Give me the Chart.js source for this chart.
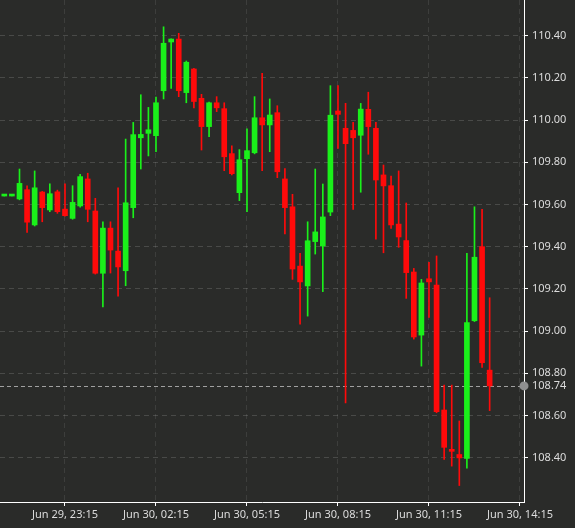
<!DOCTYPE html>
<html>
<head>
<meta charset="utf-8">
<script src="https://cdn.jsdelivr.net/npm/chart.js@4.4.0/dist/chart.umd.min.js"></script>
<style>
  html, body { margin: 0; padding: 0; background: #2a2b29; }
  #wrap { width: 575px; height: 528px; }
</style>
</head>
<body>
<div id="wrap"><canvas id="myChart" width="575" height="528"></canvas></div>
<script>
// 15 minute candles, Jun 29 21:15 -> Jun 30 13:15
const times = [
  "Jun 29, 21:15", "Jun 29, 21:30", "Jun 29, 21:45", "Jun 29, 22:00", "Jun 29, 22:15", "Jun 29, 22:30", "Jun 29, 22:45", "Jun 29, 23:00",
  "Jun 29, 23:15", "Jun 29, 23:30", "Jun 29, 23:45", "Jun 30, 00:00", "Jun 30, 00:15", "Jun 30, 00:30", "Jun 30, 00:45", "Jun 30, 01:00",
  "Jun 30, 01:15", "Jun 30, 01:30", "Jun 30, 01:45", "Jun 30, 02:00", "Jun 30, 02:15", "Jun 30, 02:30", "Jun 30, 02:45", "Jun 30, 03:00",
  "Jun 30, 03:15", "Jun 30, 03:30", "Jun 30, 03:45", "Jun 30, 04:00", "Jun 30, 04:15", "Jun 30, 04:30", "Jun 30, 04:45", "Jun 30, 05:00",
  "Jun 30, 05:15", "Jun 30, 05:30", "Jun 30, 05:45", "Jun 30, 06:00", "Jun 30, 06:15", "Jun 30, 06:30", "Jun 30, 06:45", "Jun 30, 07:00",
  "Jun 30, 07:15", "Jun 30, 07:30", "Jun 30, 07:45", "Jun 30, 08:00", "Jun 30, 08:15", "Jun 30, 08:30", "Jun 30, 08:45", "Jun 30, 09:00",
  "Jun 30, 09:15", "Jun 30, 09:30", "Jun 30, 09:45", "Jun 30, 10:00", "Jun 30, 10:15", "Jun 30, 10:30", "Jun 30, 10:45", "Jun 30, 11:00",
  "Jun 30, 11:15", "Jun 30, 11:30", "Jun 30, 11:45", "Jun 30, 12:00", "Jun 30, 12:15", "Jun 30, 12:30", "Jun 30, 12:45", "Jun 30, 13:00",
  "Jun 30, 13:15"
];

const opens = [
  109.64, 109.64, 109.626, 109.67, 109.503, 109.659, 109.574, 109.66,
  109.578, 109.534, 109.593, 109.721, 109.569, 109.274, 109.488, 109.379,
  109.286, 109.585, 109.916, 109.937, 109.926, 110.139, 110.37, 110.384,
  110.13, 110.242, 110.103, 109.969, 110.082, 110.054, 109.841, 109.656,
  109.817, 109.845, 110.011, 109.977, 110.035, 109.721, 109.589, 109.308,
  109.214, 109.424, 109.403, 109.564, 110.043, 109.961, 109.951, 109.928,
  110.051, 109.961, 109.74, 109.689, 109.507, 109.429, 109.28, 108.981,
  109.248, 109.218, 108.626, 108.436, 108.415, 108.397, 109.049, 109.40,
  108.815
];
const highs = [
  109.64, 109.64, 109.768, 109.688, 109.759, 109.662, 109.698, 109.668,
  109.698, 109.689, 109.743, 109.748, 109.629, 109.518, 109.518, 109.679,
  109.91, 109.989, 110.12, 110.06, 110.109, 110.442, 110.385, 110.411,
  110.28, 110.245, 110.122, 110.085, 110.111, 110.082, 109.878, 109.86,
  109.959, 110.111, 110.222, 110.10, 110.068, 109.77, 109.648, 109.369,
  109.518, 109.768, 109.697, 110.163, 110.163, 110.079, 109.989, 110.079,
  110.132, 109.989, 109.787, 109.735, 109.759, 109.607, 109.297, 109.245,
  109.326, 109.356, 108.744, 108.744, 108.574, 109.369, 109.589, 109.577,
  109.158
];
const lows = [
  109.64, 109.64, 109.622, 109.468, 109.498, 109.518, 109.566, 109.558,
  109.545, 109.53, 109.587, 109.518, 109.27, 109.115, 109.275, 109.166,
  109.215, 109.537, 109.768, 109.83, 109.85, 110.10, 110.15, 110.111,
  110.082, 110.057, 109.858, 109.921, 110.04, 109.76, 109.74, 109.618,
  109.566, 109.84, 109.76, 109.85, 109.727, 109.46, 109.245, 109.033,
  109.071, 109.365, 109.187, 109.547, 109.866, 108.66, 109.577, 109.658,
  109.838, 109.435, 109.371, 109.487, 109.397, 109.155, 108.962, 108.834,
  109.065, 108.613, 108.392, 108.36, 108.268, 108.35, 109.045, 108.828,
  108.623
];
const closes = [
  109.64, 109.64, 109.70, 109.516, 109.679, 109.585, 109.651, 109.566,
  109.547, 109.61, 109.732, 109.577, 109.274, 109.488, 109.384, 109.304,
  109.608, 109.931, 109.932, 109.954, 110.082, 110.364, 110.384, 110.139,
  110.274, 110.088, 109.969, 110.082, 110.058, 109.826, 109.746, 109.812,
  109.855, 110.011, 109.977, 110.024, 109.755, 109.585, 109.294, 109.233,
  109.428, 109.47, 109.541, 110.023, 110.027, 109.888, 109.916, 110.052,
  109.969, 109.716, 109.688, 109.503, 109.446, 109.277, 108.972, 109.228,
  109.233, 108.618, 108.449, 108.43, 108.399, 109.04, 109.35, 108.85,
  108.74
];

const xTickIndex = [8, 20, 32, 44, 56, 68];
const xTickLabels = ["Jun 29, 23:15", "Jun 30, 02:15", "Jun 30, 05:15", "Jun 30, 08:15", "Jun 30, 11:15", "Jun 30, 14:15"];
const yTicks = [108.4, 108.6, 108.8, 109.0, 109.2, 109.4, 109.6, 109.8, 110.0, 110.2, 110.4];

const UP = "#1af01a";
const DOWN = "#ff0a0a";
const TEXT = "#dcdcdc";
const FONT = { family: "'Noto Sans', sans-serif", size: 11 };

const lastPrice = closes[closes.length - 1];

const candleColors = opens.map((o, i) => (closes[i] >= o ? UP : DOWN));

const bodies = opens.map((o, i) => ({ x: i, y: [o, closes[i]] }));
const wicks = lows.map((l, i) => ({ x: i, y: [l, highs[i]] }));

const background = {
  id: "background",
  beforeDraw(chart) {
    const ctx = chart.ctx;
    ctx.save();
    ctx.fillStyle = "#2a2b29";
    ctx.fillRect(0, 0, chart.width, chart.height);
    ctx.restore();
  },
};

const priceLine = {
  id: "priceLine",
  beforeDatasetsDraw(chart) {
    const { ctx, chartArea } = chart;
    const y = Math.round(chart.scales.y.getPixelForValue(lastPrice)) + 0.5;
    ctx.save();
    ctx.strokeStyle = "#a0a0a0";
    ctx.lineWidth = 1;
    ctx.setLineDash([4, 3]);
    ctx.beginPath();
    ctx.moveTo(chartArea.left, y);
    ctx.lineTo(chartArea.right, y);
    ctx.stroke();
    ctx.restore();
  },
  afterDraw(chart) {
    const { ctx, chartArea } = chart;
    const y = chart.scales.y.getPixelForValue(lastPrice);
    ctx.save();
    ctx.fillStyle = "#8f8f8f";
    ctx.beginPath();
    ctx.arc(chartArea.right, y, 4.5, 0, Math.PI * 2);
    ctx.fill();
    ctx.fillStyle = TEXT;
    ctx.font = `${FONT.size}px ${FONT.family}`;
    ctx.textAlign = "left";
    ctx.textBaseline = "middle";
    ctx.fillText(lastPrice.toFixed(2), chartArea.right + 8, y);
    ctx.restore();
  },
};

const ctx = document.getElementById("myChart");

new Chart(ctx, {
  type: "bar",
  data: {
    datasets: [
      {
        label: "body",
        data: bodies,
        backgroundColor: candleColors,
        borderWidth: 0,
        barThickness: 5,
        minBarLength: 2,
        grouped: false,
      },
      {
        label: "wick",
        data: wicks,
        backgroundColor: candleColors,
        borderWidth: 0,
        barThickness: 1,
        grouped: false,
      },
    ],
  },
  options: {
    responsive: false,
    animation: false,
    layout: { padding: 0 },
    plugins: {
      legend: { display: false },
      tooltip: {
        callbacks: {
          title: (items) => times[items[0].parsed.x],
          label: (item) => {
            const i = item.parsed.x;
            return `O ${opens[i]} H ${highs[i]} L ${lows[i]} C ${closes[i]}`;
          },
        },
      },
    },
    scales: {
      x: {
        type: "linear",
        min: -0.57,
        max: 68.53,
        offset: false,
        afterBuildTicks: (scale) => {
          scale.ticks = xTickIndex.map((v) => ({ value: v }));
        },
        afterFit: (scale) => {
          scale.height = 26;
          scale.paddingLeft = 0;
          scale.paddingRight = 0;
        },
        ticks: {
          autoSkip: false,
          maxRotation: 0,
          color: TEXT,
          font: FONT,
          padding: 2,
          callback: (value) => xTickLabels[xTickIndex.indexOf(value)],
        },
        grid: {
          offset: false,
          color: "rgba(255,255,255,0.09)",
          tickColor: "#ffffff",
          tickLength: 4,
        },
        border: { color: "#ffffff", width: 1, dash: [5, 4] },
      },
      y: {
        position: "right",
        min: 108.19,
        max: 110.569,
        afterBuildTicks: (scale) => {
          scale.ticks = yTicks.map((v) => ({ value: v }));
        },
        afterFit: (scale) => {
          scale.width = 51;
          scale.paddingTop = 0;
          scale.paddingBottom = 0;
        },
        ticks: {
          color: TEXT,
          font: FONT,
          padding: 4,
          callback: (value) => value.toFixed(2),
        },
        grid: {
          color: "rgba(255,255,255,0.15)",
          tickColor: "#ffffff",
          tickLength: 4,
        },
        border: { color: "#ffffff", width: 1, dash: [5, 4] },
      },
    },
  },
  plugins: [background, priceLine],
});
</script>
</body>
</html>
